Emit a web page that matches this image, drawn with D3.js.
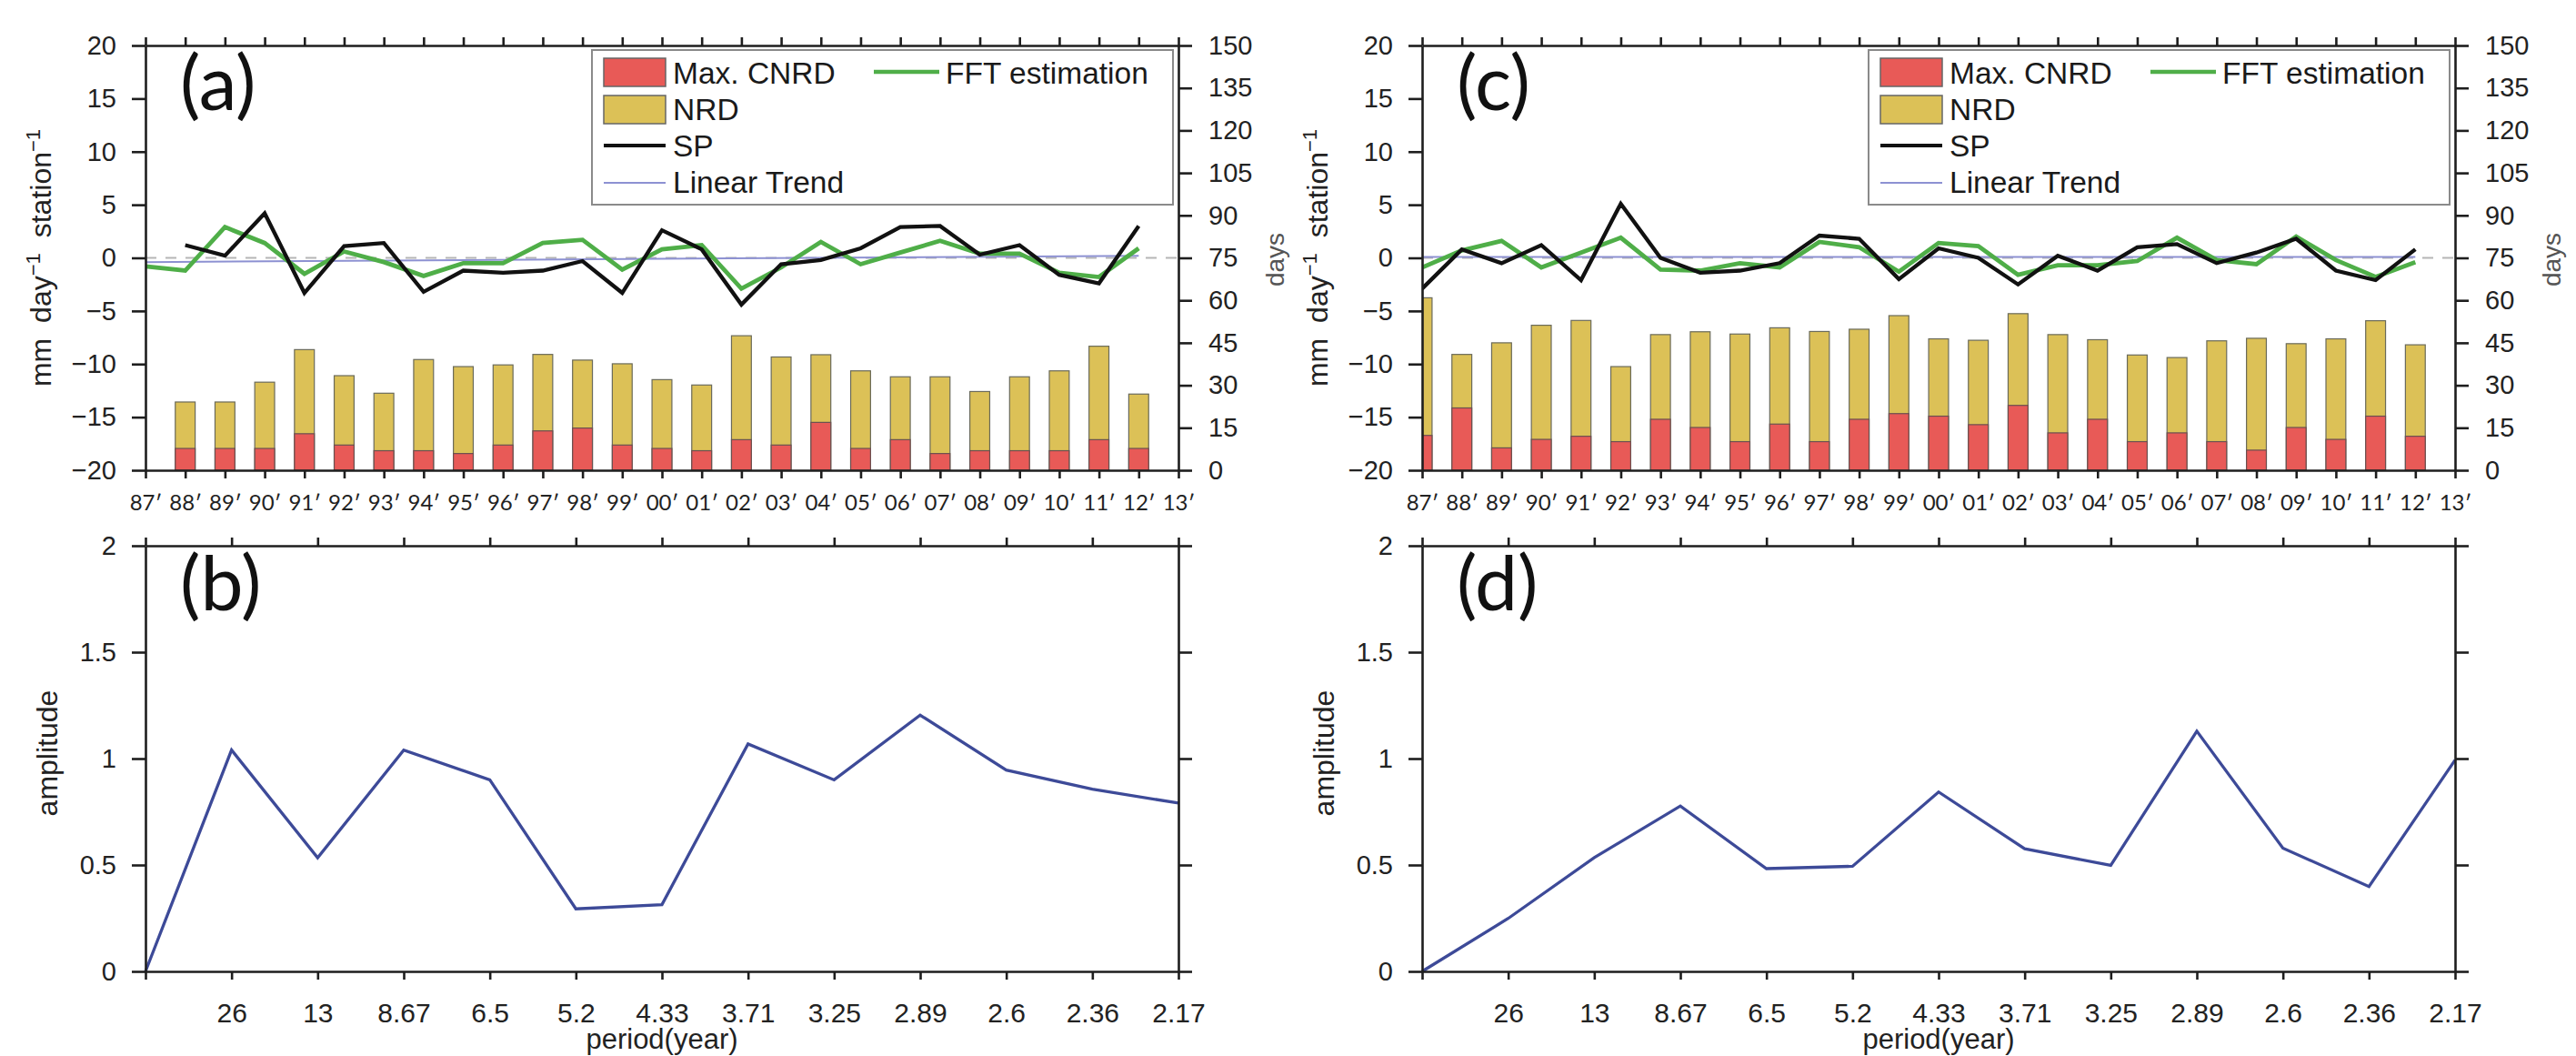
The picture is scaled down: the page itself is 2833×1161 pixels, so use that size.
<!DOCTYPE html>
<html><head><meta charset="utf-8">
<script src="https://cdn.jsdelivr.net/npm/d3@7"></script>
<style>html,body{margin:0;padding:0;background:#fff;} svg{display:block;}</style>
</head><body>
<svg id="chart" width="2833" height="1161"></svg>
<script>
// ---------- data ----------
const yearLabels = ["87′","88′","89′","90′","91′","92′","93′","94′","95′","96′","97′","98′","99′","00′","01′","02′","03′","04′","05′","06′","07′","08′","09′","10′","11′","12′","13′"];
const periodLabels = ["", "26","13","8.67","6.5","5.2","4.33","3.71","3.25","2.89","2.6","2.36","2.17"];
const leftTicks = [-20,-15,-10,-5,0,5,10,15,20];
const rightTicks = [0,15,30,45,60,75,90,105,120,135,150];
const ampTicks = [0,0.5,1,1.5,2];

// panel (a)  bars in days (right axis), lines in mm day-1 station-1 (left axis)
const barYearsA = yearLabels.slice(1,26);
const nrdA  = [24.1,24.1,31.1,42.6,33.4,27.2,39.1,36.6,37.2,40.9,38.9,37.6,32.0,30.1,47.5,40.0,40.8,35.1,33.0,33.0,27.8,33.0,35.1,43.8,26.9];
const cnrdA = [7.7,7.7,7.7,12.9,8.9,6.9,6.9,5.9,8.9,13.9,14.9,8.9,7.7,6.9,10.8,8.9,16.9,7.7,10.8,5.9,6.9,6.9,6.9,10.8,7.7];
const spYearsA = yearLabels.slice(1,26);
const spA   = [1.2,0.2,4.2,-3.3,1.1,1.4,-3.2,-1.2,-1.4,-1.2,-0.3,-3.3,2.6,0.8,-4.4,-0.6,-0.2,0.9,2.9,3.0,0.3,1.2,-1.6,-2.4,3.0];
const fftYearsA = yearLabels.slice(0,26);
const fftA  = [-0.8,-1.2,2.9,1.4,-1.5,0.6,-0.4,-1.7,-0.5,-0.5,1.4,1.7,-1.1,0.8,1.2,-2.9,-0.9,1.5,-0.6,0.5,1.6,0.4,0.4,-1.4,-1.8,0.9];
const trendYearsA = ["87′","12′"];
const trendA = [-0.4,0.2];

// panel (c)
const barYearsC = yearLabels.slice(0,26);
const nrdC  = [60.9,40.9,45.0,51.2,52.9,36.6,47.9,48.9,48.1,50.3,49.0,49.8,54.6,46.4,45.9,55.3,47.9,46.1,40.7,39.8,45.7,46.6,44.7,46.4,52.8,44.3];
const cnrdC = [12.3,22.0,7.9,10.9,12.0,10.1,18.0,15.1,10.1,16.3,10.1,18.0,20.0,19.1,16.1,22.9,13.2,18.0,10.1,13.2,10.1,7.1,15.1,10.9,19.1,12.0];
const spYearsC = yearLabels.slice(0,26);
const spC   = [-2.9,0.8,-0.5,1.2,-2.1,5.1,0.0,-1.4,-1.2,-0.5,2.1,1.8,-2.0,0.9,0.0,-2.5,0.2,-1.2,1.0,1.3,-0.5,0.5,1.8,-1.2,-2.1,0.8];
const fftYearsC = yearLabels.slice(0,26);
const fftC  = [-0.9,0.7,1.6,-0.9,0.5,1.9,-1.1,-1.2,-0.5,-0.9,1.5,1.0,-1.3,1.4,1.1,-1.6,-0.7,-0.7,-0.3,1.9,-0.2,-0.6,2.0,-0.2,-1.8,-0.4];
const trendYearsC = ["87′","12′"];
const trendC = [0.08,0.08];

// panels (b) and (d): FFT amplitude
const ampB = [0,1.04,0.534,1.04,0.90,0.294,0.314,1.069,0.90,1.204,0.946,0.856,0.791];
const ampD = [0,0.249,0.535,0.777,0.483,0.494,0.843,0.576,0.498,1.129,0.579,0.399,0.993];

// ---------- style ----------
const AX = "#1e1e1e", AXW = 2.6;
const NUMFONT = "'Liberation Sans', Arial, Helvetica, sans-serif";
const LABFONT = "Lato, 'Open Sans', sans-serif";
const RED = "#e85a57", YEL = "#dcc157", GREEN = "#4fae48", BLUE = "#3d4a98", TREND = "#8d91d2";

const svg = d3.select("#chart");
svg.append("rect").attr("width",2833).attr("height",1161).attr("fill","#fff");

function styleAxis(sel){
  sel.selectAll(".domain").attr("stroke",AX).attr("stroke-width",AXW);
  sel.selectAll(".tick line").attr("stroke",AX).attr("stroke-width",AXW);
  sel.selectAll("text").attr("fill","#222").style("font-family",NUMFONT).style("font-size","29px");
}

let clipId = 0;
function topPanel(p){
  const {L,R,T,B,tag,barYears,nrd,cnrd,spYears,sp,fftYears,fft,trendYears,trend} = p;
  const g = svg.append("g");
  const x = d3.scalePoint().domain(yearLabels).range([L,R]);
  const yL = d3.scaleLinear().domain([-20,20]).range([B,T]);
  const yR = d3.scaleLinear().domain([0,150]).range([B,T]);
  const cid = "clip"+(clipId++);
  svg.append("clipPath").attr("id",cid).append("rect").attr("x",L).attr("y",T).attr("width",R-L).attr("height",B-T);
  const plot = g.append("g").attr("clip-path",`url(#${cid})`);
  const bw = x.step()*0.5;
  // bars
  plot.selectAll(".nrd").data(barYears).join("rect")
    .attr("x",d=>x(d)-bw/2).attr("width",bw)
    .attr("y",(d,i)=>yR(nrd[i])).attr("height",(d,i)=>yR(0)-yR(nrd[i]))
    .attr("fill",YEL).attr("stroke","#6a6a5a").attr("stroke-width",1.2);
  plot.selectAll(".cnrd").data(barYears).join("rect")
    .attr("x",d=>x(d)-bw/2).attr("width",bw)
    .attr("y",(d,i)=>yR(cnrd[i])).attr("height",(d,i)=>yR(0)-yR(cnrd[i]))
    .attr("fill",RED).attr("stroke","#6a5050").attr("stroke-width",1.2);
  // zero dashed line
  plot.append("line").attr("x1",L).attr("x2",R).attr("y1",yL(0)).attr("y2",yL(0))
    .attr("stroke","#b5b5b5").attr("stroke-width",2).attr("stroke-dasharray","12,10");
  // trend
  plot.append("path").datum(trendYears).attr("fill","none").attr("stroke",TREND).attr("stroke-width",2)
    .attr("d",d3.line().x(d=>x(d)).y((d,i)=>yL(trend[i])));
  // FFT
  plot.append("path").datum(fftYears).attr("fill","none").attr("stroke",GREEN).attr("stroke-width",4.8)
    .attr("d",d3.line().x(d=>x(d)).y((d,i)=>yL(fft[i])));
  // SP
  plot.append("path").datum(spYears).attr("fill","none").attr("stroke","#111").attr("stroke-width",4.3)
    .attr("d",d3.line().x(d=>x(d)).y((d,i)=>yL(sp[i])));

  // axes
  const ax1 = g.append("g").attr("transform",`translate(0,${B})`)
    .call(d3.axisBottom(x).tickSize(9).tickSizeOuter(0));
  styleAxis(ax1);
  ax1.selectAll("text").attr("y",44).attr("dy",0).style("font-family",LABFONT).style("font-size","24px");
  const ax2 = g.append("g").attr("transform",`translate(0,${T})`)
    .call(d3.axisTop(x).tickSize(9).tickSizeOuter(0).tickFormat(""));
  styleAxis(ax2);
  const ax3 = g.append("g").attr("transform",`translate(${L},0)`)
    .call(d3.axisLeft(yL).tickValues(leftTicks).tickSize(15).tickPadding(17).tickSizeOuter(0).tickFormat(d3.format("d")));
  styleAxis(ax3);
  const ax4 = g.append("g").attr("transform",`translate(${R},0)`)
    .call(d3.axisRight(yR).tickValues(rightTicks).tickSize(15).tickPadding(18).tickSizeOuter(0).tickFormat(d3.format("d")));
  styleAxis(ax4);

  // axis titles
  const yt = g.append("text").attr("transform",`translate(${L-104},${(T+B)/2}) rotate(-90)`)
    .attr("text-anchor","middle").style("font-family",NUMFONT).style("font-size","32px")
    .style("word-spacing","8px").attr("fill","#222");
  yt.append("tspan").text("mm day");
  yt.append("tspan").attr("baseline-shift","super").style("font-size","22px").text("−1");
  yt.append("tspan").text(" station");
  yt.append("tspan").attr("baseline-shift","super").style("font-size","22px").text("−1");
  g.append("text").attr("transform",`translate(${R+116},${(T+B)/2+2}) rotate(-90)`)
    .attr("text-anchor","middle").style("font-family",NUMFONT).style("font-size","28px")
    .attr("fill","#555").text("days");

  // panel tag
  g.append("text").attr("x",L+38).attr("y",T+71).style("font-family",LABFONT)
    .style("font-size","84px").attr("fill","#111").text(tag);

  // legend
  const lg = g.append("g").attr("transform",`translate(${L},${T})`);
  lg.append("rect").attr("x",491).attr("y",5).attr("width",R-L-6-491).attr("height",170)
    .attr("fill","#fff").attr("stroke","#8a8a8a").attr("stroke-width",2);
  const lf = (s)=>s.style("font-family",NUMFONT).style("font-size","33.5px").attr("fill","#1a1a1a");
  lg.append("rect").attr("x",504).attr("y",14).attr("width",68).attr("height",31).attr("fill",RED).attr("stroke","#666").attr("stroke-width",1.5);
  lf(lg.append("text").attr("x",580).attr("y",42).text("Max. CNRD"));
  lg.append("rect").attr("x",504).attr("y",55).attr("width",68).attr("height",31).attr("fill",YEL).attr("stroke","#666").attr("stroke-width",1.5);
  lf(lg.append("text").attr("x",580).attr("y",82).text("NRD"));
  lg.append("line").attr("x1",504).attr("x2",572).attr("y1",110).attr("y2",110).attr("stroke","#111").attr("stroke-width",4);
  lf(lg.append("text").attr("x",580).attr("y",122).text("SP"));
  lg.append("line").attr("x1",504).attr("x2",572).attr("y1",151).attr("y2",151).attr("stroke",TREND).attr("stroke-width",2);
  lf(lg.append("text").attr("x",580).attr("y",162).text("Linear Trend"));
  lg.append("line").attr("x1",801).attr("x2",873).attr("y1",29).attr("y2",29).attr("stroke",GREEN).attr("stroke-width",4.5);
  lf(lg.append("text").attr("x",880).attr("y",42).text("FFT estimation"));
}

function bottomPanel(p){
  const {L,R,T,B,tag,amp} = p;
  const g = svg.append("g");
  const x = d3.scalePoint().domain(periodLabels).range([L,R]);
  const y = d3.scaleLinear().domain([0,2]).range([B,T]);
  g.append("path").datum(periodLabels).attr("fill","none").attr("stroke",BLUE).attr("stroke-width",3.3)
    .attr("d",d3.line().x(d=>x(d)).y((d,i)=>y(amp[i])));
  const ax1 = g.append("g").attr("transform",`translate(0,${B})`)
    .call(d3.axisBottom(x).tickSize(9).tickSizeOuter(0));
  styleAxis(ax1);
  ax1.selectAll("text").attr("y",56).attr("dy",0).style("font-size","30px");
  const ax2 = g.append("g").attr("transform",`translate(0,${T})`)
    .call(d3.axisTop(x).tickSize(9).tickSizeOuter(0).tickFormat(""));
  styleAxis(ax2);
  const ax3 = g.append("g").attr("transform",`translate(${L},0)`)
    .call(d3.axisLeft(y).tickValues(ampTicks).tickSize(15).tickPadding(17).tickSizeOuter(0).tickFormat(d=>String(d)));
  styleAxis(ax3);
  const ax4 = g.append("g").attr("transform",`translate(${R},0)`)
    .call(d3.axisRight(y).tickValues(ampTicks).tickSize(15).tickSizeOuter(0).tickFormat(""));
  styleAxis(ax4);
  g.append("text").attr("transform",`translate(${L-97},${(T+B)/2-6}) rotate(-90)`)
    .attr("text-anchor","middle").style("font-family",NUMFONT).style("font-size","32px")
    .attr("fill","#222").text("amplitude");
  g.append("text").attr("x",(L+R)/2).attr("y",1153).attr("text-anchor","middle")
    .style("font-family",NUMFONT).style("font-size","31px").attr("fill","#222").text("period(year)");
  g.append("text").attr("x",L+38).attr("y",T+71).style("font-family",LABFONT)
    .style("font-size","84px").attr("fill","#111").text(tag);
}

topPanel({L:160,R:1296,T:50,B:517,tag:"(a)",barYears:barYearsA,nrd:nrdA,cnrd:cnrdA,
  spYears:spYearsA,sp:spA,fftYears:fftYearsA,fft:fftA,trendYears:trendYearsA,trend:trendA});
topPanel({L:1564,R:2700,T:50,B:517,tag:"(c)",barYears:barYearsC,nrd:nrdC,cnrd:cnrdC,
  spYears:spYearsC,sp:spC,fftYears:fftYearsC,fft:fftC,trendYears:trendYearsC,trend:trendC});
bottomPanel({L:160,R:1296,T:600,B:1068,tag:"(b)",amp:ampB});
bottomPanel({L:1564,R:2700,T:600,B:1068,tag:"(d)",amp:ampD});
</script>
</body></html>
